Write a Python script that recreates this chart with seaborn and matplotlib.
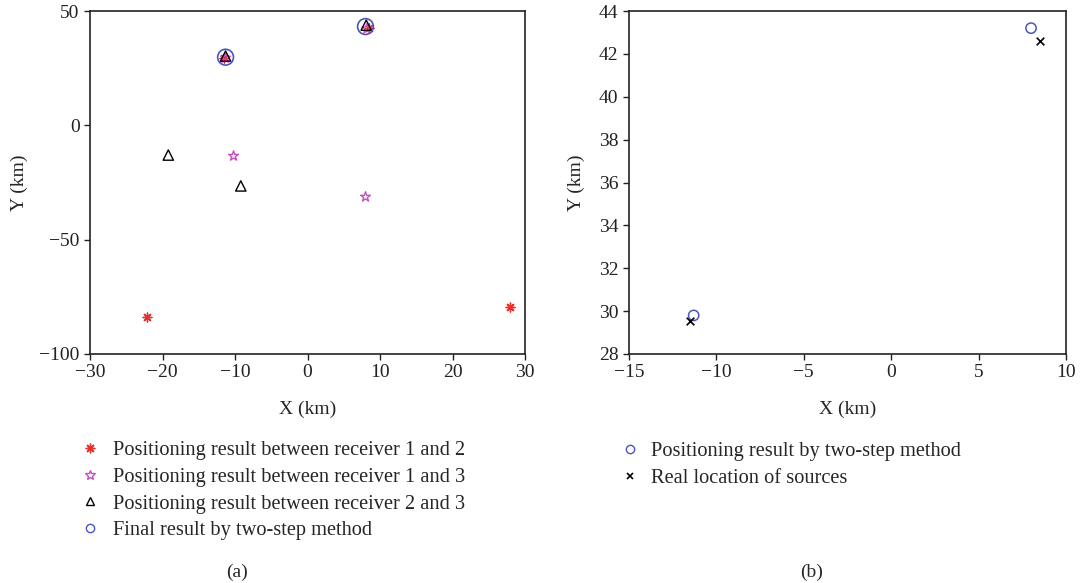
import matplotlib
matplotlib.use("Agg")
import matplotlib.pyplot as plt
from matplotlib.lines import Line2D
import seaborn as sns

# ---- data ----
# (a) solutions of each receiver pair (km)
pair12_x = [-11.5, 8.5, -22.2, 27.9]
pair12_y = [29.6, 42.6, -83.7, -79.4]
pair13_x = [-11.3, 8.2, -10.2, 8.0]
pair13_y = [29.5, 42.3, -13.4, -31.3]
pair23_x = [-11.3, 8.1, -19.2, -9.2]
pair23_y = [30.3, 43.8, -13.0, -26.5]
final_x = [-11.3, 8.0]
final_y = [29.8, 43.2]
# (b) two-step result vs real sources
real_x = [-11.5, 8.5]
real_y = [29.55, 42.6]

sns.set_theme(style="ticks")
plt.rcParams['font.family'] = ['Liberation Serif', 'DejaVu Serif']
plt.rcParams['font.size'] = 14
plt.rcParams['axes.linewidth'] = 1.2

FS = 14
LFS = 14.7
fig = plt.figure(figsize=(10.83, 5.83), dpi=100)
W, H = 1083, 583
def box(l, t, r, b):
    return [l / W, 1 - b / H, (r - l) / W, (b - t) / H]

axa = fig.add_axes(box(90, 11, 525, 354))
axb = fig.add_axes(box(629, 11, 1066, 354))

red = '#e8312f'
mag = '#c84fc0'
blue = '#4b55c0'

def pts(ax, x, y, marker, col, size, hollow=True, lw=1.0):
    sns.scatterplot(x=x, y=y, marker=marker, s=size, color=col, edgecolor=col,
                    linewidth=lw, ax=ax, zorder=3, legend=False)
    if hollow:
        ax.collections[-1].set_facecolor('none')

def handle(marker, col, ms, lw=1.0, hollow=True):
    return Line2D([], [], ls='none', marker=marker, color=col, markersize=ms,
                  markeredgewidth=lw, markerfacecolor='none' if hollow else col)

# panel (a)
pts(axa, pair12_x, pair12_y, (8, 2, 0), red, 40, hollow=False)
pts(axa, pair13_x, pair13_y, '*', mag, 55)
pts(axa, pair23_x, pair23_y, '^', 'black', 55)
pts(axa, final_x, final_y, 'o', blue, 130, lw=1.2)

axa.set_xlim(-30, 30)
axa.set_ylim(-100, 50)
axa.set_xticks(range(-30, 31, 10))
axa.set_yticks([-100, -50, 0, 50])

# panel (b)
pts(axb, final_x, final_y, 'o', blue, 55, lw=1.1)
pts(axb, real_x, real_y, 'x', 'black', 30, hollow=False, lw=1.2)

axb.set_xlim(-15, 10)
axb.set_ylim(28, 44)
axb.set_xticks(range(-15, 11, 5))
axb.set_yticks(range(28, 45, 2))

for ax in (axa, axb):
    ax.set_xlabel('X (km)', fontsize=FS, labelpad=14)
    ax.set_ylabel('Y (km)', fontsize=FS, labelpad=8)
    ax.tick_params(direction='out', length=4, width=1, labelsize=FS, colors='#222222')
    for s in ax.spines.values():
        s.set_color('#222222')
axb.yaxis.labelpad = 10

ha = [handle((8, 2, 0), red, 7, hollow=False), handle('*', mag, 7),
      handle('^', 'black', 6), handle('o', blue, 6)]
la = ['Positioning result between receiver 1 and 2',
      'Positioning result between receiver 1 and 3',
      'Positioning result between receiver 2 and 3',
      'Final result by two-step method']
fig.legend(ha, la, loc='upper left', bbox_to_anchor=(78 / W, 1 - 441 / H),
           frameon=False, handlelength=1.15, handletextpad=0.55, labelspacing=0.36,
           borderpad=0, borderaxespad=0, fontsize=LFS)
hb = [handle('o', blue, 6), handle('x', 'black', 5, lw=1.2, hollow=False)]
lb = ['Positioning result by two-step method', 'Real location of sources']
fig.legend(hb, lb, loc='upper left', bbox_to_anchor=(621 / W, 1 - 442 / H),
           frameon=False, handlelength=0.9, handletextpad=0.55, labelspacing=0.36,
           borderpad=0, borderaxespad=0, fontsize=LFS)

fig.text(237 / W, 1 - 572 / H, '(a)', ha='center', va='center', fontsize=FS)
fig.text(812 / W, 1 - 572 / H, '(b)', ha='center', va='center', fontsize=FS)

fig.savefig('out.png', dpi=100)
